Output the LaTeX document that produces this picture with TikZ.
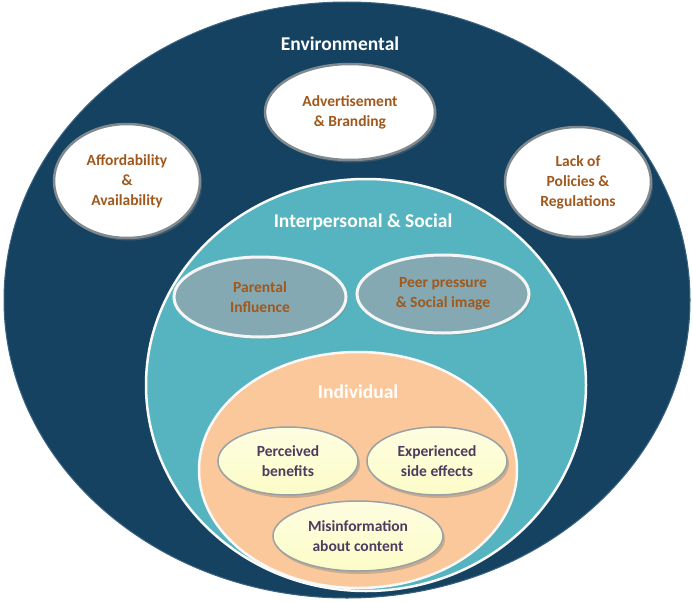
\documentclass[tikz,border=0pt]{standalone}
\usepackage{fontspec}
\setmainfont{Carlito}
\usetikzlibrary{shapes.geometric,shadows}
\definecolor{envblue}{RGB}{22,66,98}
\definecolor{envedge}{RGB}{60,100,130}
\definecolor{teal}{RGB}{86,180,192}
\definecolor{peergray}{RGB}{132,169,179}
\definecolor{peach}{RGB}{251,200,155}
\definecolor{brownt}{RGB}{160,88,28}
\definecolor{purplet}{RGB}{78,60,96}
\definecolor{lightyellow}{RGB}{252,252,200}
\definecolor{edgegray}{RGB}{128,138,142}
\tikzset{
  layer/.style={ellipse, inner sep=0pt},
  envbox/.style={ellipse, inner sep=0pt, fill=white, draw=edgegray, line width=2.5pt,
    align=center, text=brownt, font=\bfseries\fontsize{15.5}{20}\selectfont,
    drop shadow={opacity=0.35, shadow xshift=2pt, shadow yshift=-2.5pt}},
  socbox/.style={ellipse, inner sep=0pt, fill=peergray, draw=white!92!gray, line width=3pt,
    align=center, text=brownt, font=\bfseries\fontsize{15.5}{20}\selectfont,
    drop shadow={opacity=0.3, shadow xshift=2pt, shadow yshift=-2.5pt}},
  indbox/.style={ellipse, inner sep=0pt, top color=lightyellow!55!white, bottom color=lightyellow, draw=edgegray!80, line width=1.5pt,
    align=center, text=purplet, font=\bfseries\fontsize{15.5}{20}\selectfont,
    drop shadow={opacity=0.4, shadow xshift=2pt, shadow yshift=-3pt}},
  title/.style={text=white, font=\bfseries\fontsize{19.5}{22}\selectfont},
}
\begin{document}
\begin{tikzpicture}[x=1pt,y=-1pt]
\useasboundingbox[fill=white] (0,0) rectangle (693,602);
% outer layer
\node[layer, fill=envblue, draw=envedge, line width=1pt, minimum width=686pt, minimum height=596pt] (env) at (347,300) {};
\node[title] (envt) at (340,44) {Environmental};
\node[envbox, minimum width=170pt, minimum height=96pt] (adv) at (350,112) {Advertisement\\ \& Branding};
\node[envbox, minimum width=146pt, minimum height=114pt] (aff) at (127,181) {Affordability\\ \&\\ Availability};
\node[envbox, minimum width=146pt, minimum height=110pt] (lack) at (578,182) {Lack of\\ Policies \&\\ Regulations};
% interpersonal layer
\node[layer, fill=teal, draw=white!95!gray, line width=2.5pt, minimum width=440pt, minimum height=412pt] (soc) at (366,385) {};
\node[title] (soct) at (363,222) {Interpersonal \& Social};
\node[socbox, minimum width=172pt, minimum height=80pt] (par) at (260,297) {Parental\\ Influence};
\node[socbox, minimum width=172pt, minimum height=78pt] (peer) at (443,294) {Peer pressure\\ \& Social image};
% individual layer
\node[layer, fill=peach, draw=white!95!gray, line width=2.5pt, minimum width=318pt, minimum height=236pt] (ind) at (358,470) {};
\node[title] (indt) at (358,392) {Individual};
\node[indbox, minimum width=140pt, minimum height=68pt] (perc) at (288,461) {Perceived\\ benefits};
\node[indbox, minimum width=140pt, minimum height=68pt] (exp) at (437,461) {Experienced\\ side effects};
\node[indbox, minimum width=170pt, minimum height=70pt] (mis) at (358,536) {Misinformation\\ about content};
\end{tikzpicture}
\end{document}
